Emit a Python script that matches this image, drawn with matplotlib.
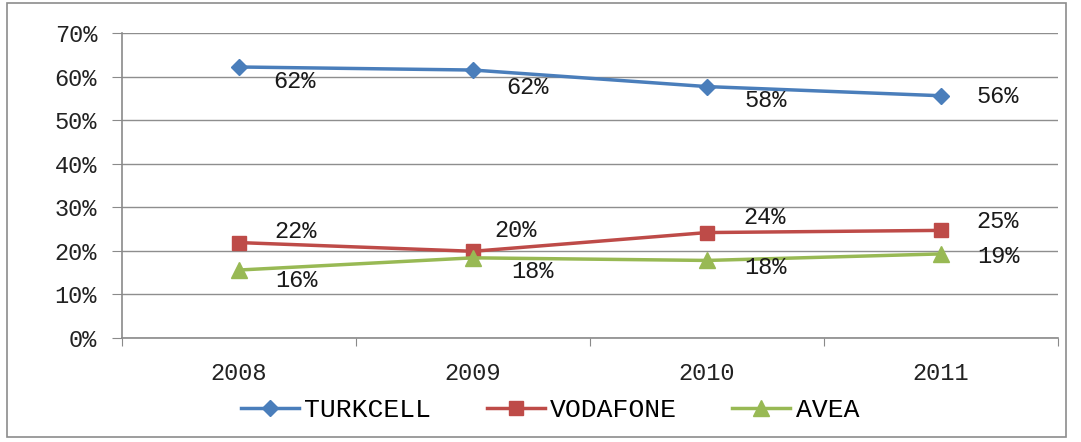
import matplotlib
matplotlib.use("Agg")
import matplotlib.pyplot as plt
from matplotlib.patches import Rectangle
from matplotlib.ticker import FixedLocator, PercentFormatter

years = ["2008", "2009", "2010", "2011"]
turkcell = [62.2, 61.5, 57.7, 55.6]
vodafone = [21.9, 19.9, 24.2, 24.7]
avea = [15.6, 18.4, 17.8, 19.3]
series_names = ["TURKCELL", "VODAFONE", "AVEA"]
yticks = [0, 10, 20, 30, 40, 50, 60, 70]

FONT = "Liberation Mono"
W, H = 1081, 442
fig = plt.figure(figsize=(W / 100, H / 100), dpi=100)
fig.patch.set_facecolor("white")

# outer frame
fig.add_artist(Rectangle((7 / W, 1 - 437 / H), (1066 - 7) / W, (437 - 3) / H,
                         transform=fig.transFigure, fill=False,
                         edgecolor="#8c8c8c", linewidth=1.2))

ax = fig.add_axes([122 / W, 1 - 338 / H, (1058 - 122) / W, (338 - 33) / H])
x = [i + 0.5 for i in range(len(years))]

styles = [
    (turkcell, "#4A7EBB", "D", 8.5),
    (vodafone, "#BE4B48", "s", 10),
    (avea, "#98B954", "^", 11),
]
# label offsets in pixels (dx, dy) relative to each point
offsets = [
    [(55, -15), (54, -17), (59, -14), (57, -1)],
    [(57, 11), (43, 21), (58, 15), (57, 9)],
    [(57, -10), (59, -14), (58, -7), (57, -3)],
]
handles = []
for (vals, col, mk, ms), name, offs in zip(styles, series_names, offsets):
    h, = ax.plot(x, vals, color=col, marker=mk, markersize=ms, linewidth=2.5,
                 markeredgecolor=col, label=name, zorder=3)
    handles.append(h)
    for xi, v, (dx, dy) in zip(x, vals, offs):
        ax.annotate(f"{round(v):.0f}%", (xi, v), xytext=(dx * 0.72, dy * 0.72),
                    textcoords="offset points", ha="center", va="center",
                    fontsize=17, family=FONT, color="#1a1a1a", zorder=4)

ax.set_xlim(0, 4)
ax.set_ylim(0, 70)
ax.set_yticks(yticks)
ax.yaxis.set_major_formatter(PercentFormatter(decimals=0))
ax.grid(axis="y", color="#8e8e8e", linewidth=1)
ax.set_axisbelow(True)

ax.xaxis.set_major_locator(FixedLocator([0, 1, 2, 3, 4]))
ax.xaxis.set_major_formatter(plt.NullFormatter())
ax.xaxis.set_minor_locator(FixedLocator(x))
ax.set_xticklabels(years, minor=True)
ax.tick_params(axis="x", which="major", length=6, color="#8a8a8a", direction="out")
ax.tick_params(axis="x", which="minor", length=0, pad=17)
ax.tick_params(axis="y", length=7, color="#8a8a8a", pad=11)
for lab in ax.get_xticklabels(minor=True) + ax.get_yticklabels():
    lab.set_family(FONT)
    lab.set_fontsize(17)
    lab.set_color("#222222")

for s in ["top", "right"]:
    ax.spines[s].set_visible(False)
for s in ["left", "bottom"]:
    ax.spines[s].set_color("#8a8a8a")
    ax.spines[s].set_linewidth(1.2)

leg = fig.legend(handles=handles, loc="center", bbox_to_anchor=(550 / W, 1 - 410 / H),
                 ncol=3, frameon=False, prop={"family": FONT, "size": 19},
                 handlelength=2.2, handletextpad=0.2, columnspacing=2.1)

fig.savefig("out.png", dpi=100)
